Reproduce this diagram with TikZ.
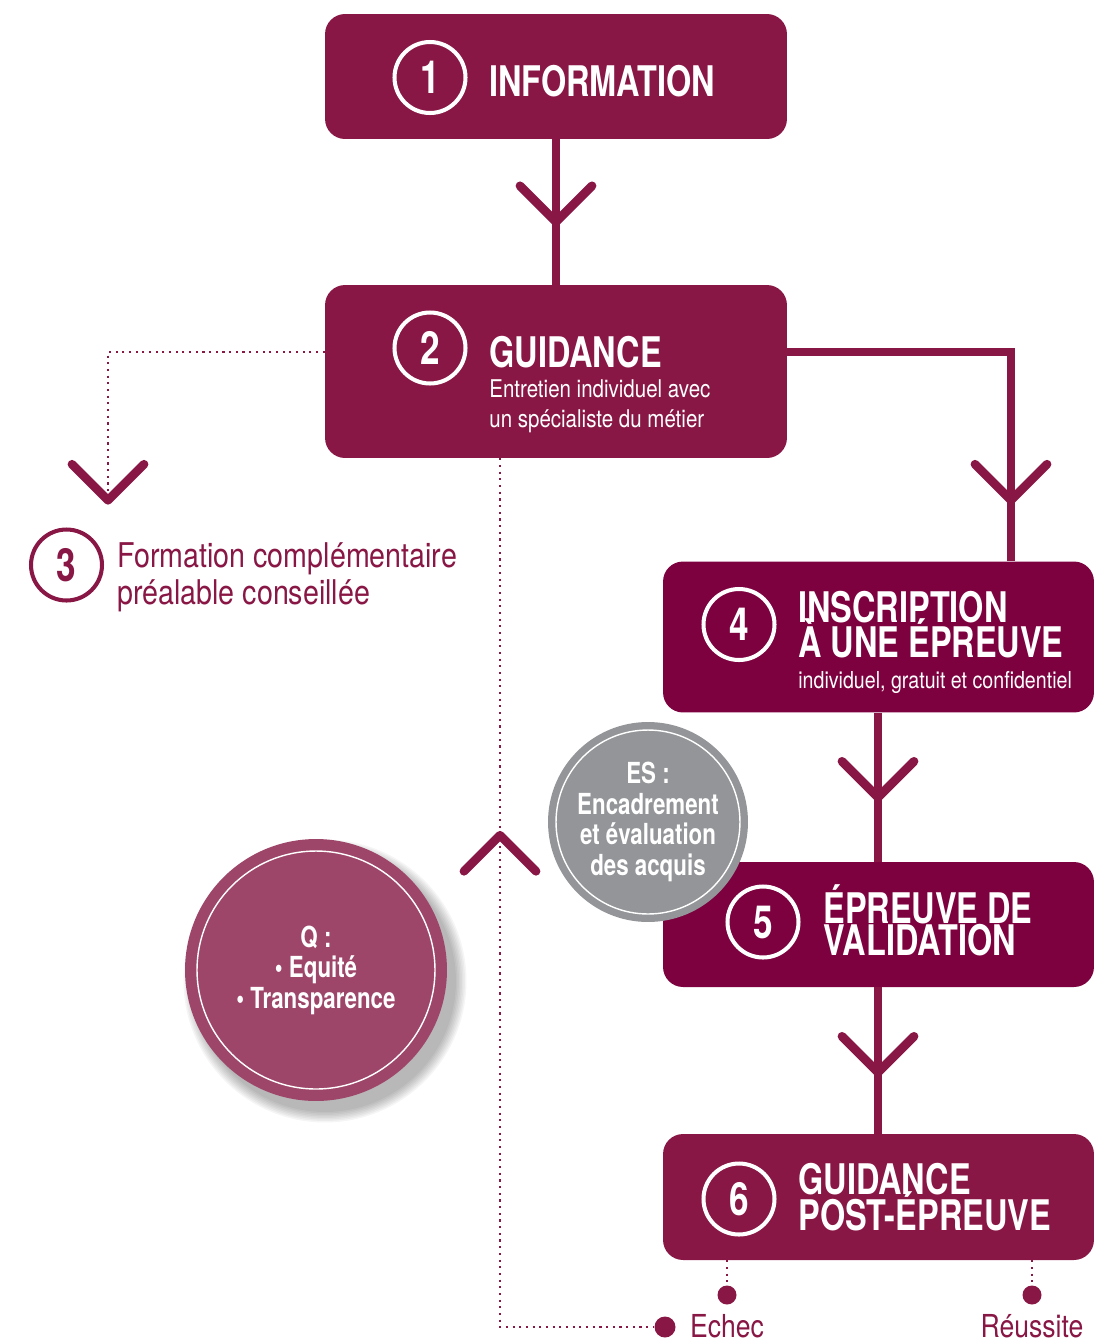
\documentclass[tikz,border=0pt]{standalone}
\usepackage{fontspec}
\setmainfont{TeX Gyre Heros}[FakeStretch=0.84]
\newfontfamily\headfont{TeX Gyre Heros}[FakeStretch=0.77]
\usetikzlibrary{positioning,decorations.markings}

\definecolor{vmaroon}{RGB}{137,23,69}
\definecolor{vdark}{RGB}{125,0,63}
\definecolor{vrose}{RGB}{158,70,105}
\definecolor{vgrey}{RGB}{147,149,152}

\tikzset{
  stepbox/.style={rectangle, rounded corners=0.4cm, inner sep=0pt, fill=#1},
  numring/.style={circle, draw=white, line width=2.3pt, minimum size=1.42cm, inner sep=0pt,
    text=white, font=\headfont\bfseries\fontsize{26}{26}\selectfont},
  headtxt/.style={anchor=base west, inner sep=0pt, text=white,
    font=\headfont\bfseries\fontsize{24}{24}\selectfont},
  subtxt/.style={anchor=base west, inner sep=0pt, text=white, font=\fontsize{#1}{14}\selectfont},
  sidetxt/.style={anchor=base west, inner sep=0pt, text=vmaroon, font=\fontsize{19.4}{19}\selectfont},
  endtxt/.style={anchor=base, inner sep=0pt, text=vmaroon, font=\fontsize{18}{18}\selectfont},
  enddot/.style={circle, fill=vmaroon, inner sep=0pt, minimum size=#1},
  roundtxt/.style={circle, inner sep=0pt, align=center, text=white,
    font=\headfont\bfseries\fontsize{16.5}{17.4}\selectfont},
  link/.style={draw=vmaroon, line width=4.5pt},
  dotlink/.style={draw=vmaroon, line width=1.2pt, dash pattern=on 1.2pt off 2.6pt},
  chevline/.style={draw=vmaroon, solid, line width=5pt, line cap=round, line join=round},
  chev/.style={postaction={decorate}, decoration={markings, mark=at position #1 with
    {\draw[chevline] (-0.72cm,0.72cm) -- (0,0) -- (-0.72cm,-0.72cm);}}},
  chevup/.style={postaction={decorate}, decoration={markings, mark=at position #1 with
    {\draw[chevline] (0.72cm,0.72cm) -- (0,0) -- (0.72cm,-0.72cm);}}}
}

\begin{document}
\begin{tikzpicture}[x=0.02cm, y=-0.02cm]
  \useasboundingbox (0,0) rectangle (1095,1343);

  % steps
  \node[stepbox=vmaroon, minimum width=9.24cm, minimum height=2.5cm] (b1) at (556,76.5) {};
  \node[stepbox=vmaroon, minimum width=9.24cm, minimum height=3.46cm] (b2) at (556,371.5) {};
  \node[stepbox=vdark, minimum width=8.62cm, minimum height=3.02cm] (b4) at (878.5,637) {};
  \node[stepbox=vdark, minimum width=8.62cm, minimum height=2.5cm] (b5) at (878.5,924.5) {};
  \node[stepbox=vmaroon, minimum width=8.62cm, minimum height=2.52cm] (b6) at (878.5,1197) {};

  % connectors
  \draw[link, chev=1.65cm] (b1.south) -- (b2.north);
  \draw[link, chev=7.44cm] (b2.east |- 0,352) -| (1011,0 |- b4.north);
  \draw[link, chev=1.69cm] (b4.south -| 878,0) -- (878,0 |- b5.north);
  \draw[link, chev=1.7cm] (b5.south -| 878,0) -- (878,0 |- b6.north);

  \coordinate (c3) at (108,501);
  \draw[dotlink, chev=0.998] (b2.west |- 0,352) -| (c3);

  \node[enddot=0.42cm] (edot) at (665,1327) {};
  \node[enddot=0.38cm] (fdot) at (727,1295) {};
  \node[enddot=0.38cm] (rdot) at (1032,1295) {};
  \draw[dotlink, chevup=7.54cm] (500,0 |- b2.south) |- (edot);
  \draw[dotlink] (727,0 |- b6.south) -- (fdot);
  \draw[dotlink] (1032,0 |- b6.south) -- (rdot);
  \node[endtxt] (echec) at (727,1337) {Echec};
  \node[endtxt] (reussite) at (1032,1337) {Réussite};

  % step texts
  \node[numring] (n1) at (430,77.5) {1};
  \node[headtxt] (t1) at (489,96) {INFORMATION};

  \node[numring] (n2) at (430,348) {2};
  \node[headtxt] (t2) at (489,367) {GUIDANCE};
  \node[subtxt=13.9] (s2a) at (489,397) {Entretien individuel avec};
  \node[subtxt=13.9] (s2b) at (489,427) {un spécialiste du métier};

  \node[numring, draw=vmaroon, text=vmaroon] (n3) at (66.5,565) {3};
  \node[sidetxt] (t3a) at (117,567) {Formation complémentaire};
  \node[sidetxt] (t3b) at (117,604) {préalable conseillée};

  \node[numring] (n4) at (739,624.5) {4};
  \node[headtxt] (t4a) at (798,622) {INSCRIPTION};
  \node[headtxt] (t4b) at (798,657) {À UNE ÉPREUVE};
  \node[subtxt=13.3] (s4) at (798,688) {individuel, gratuit et confidentiel};

  \node[numring] (n5) at (763,922) {5};
  \node[headtxt] (t5a) at (823,923) {ÉPREUVE DE};
  \node[headtxt] (t5b) at (823,955) {VALIDATION};

  \node[numring] (n6) at (739,1199) {6};
  \node[headtxt] (t6a) at (798,1194) {GUIDANCE};
  \node[headtxt] (t6b) at (798,1230) {POST-ÉPREUVE};

  % round labels
  \coordinate (qc) at (316,970);
  \foreach \k in {0,...,7}
    \fill[black, opacity=0.04] ([shift={(9,11)}]qc) circle [radius=2.62cm+\k*0.03cm];
  \node[roundtxt, fill=vrose, minimum size=5.24cm] (q) at (qc) {Q :\\• Equité\\• Transparence};
  \draw[white, line width=0.8pt] (q.center) circle [radius=2.38cm];

  \node[roundtxt, fill=vgrey, minimum size=4cm] (es) at (648,822) {ES :\\Encadrement\\et évaluation\\des acquis};
  \draw[white, line width=0.8pt] (es.center) circle [radius=1.84cm];
\end{tikzpicture}
\end{document}
